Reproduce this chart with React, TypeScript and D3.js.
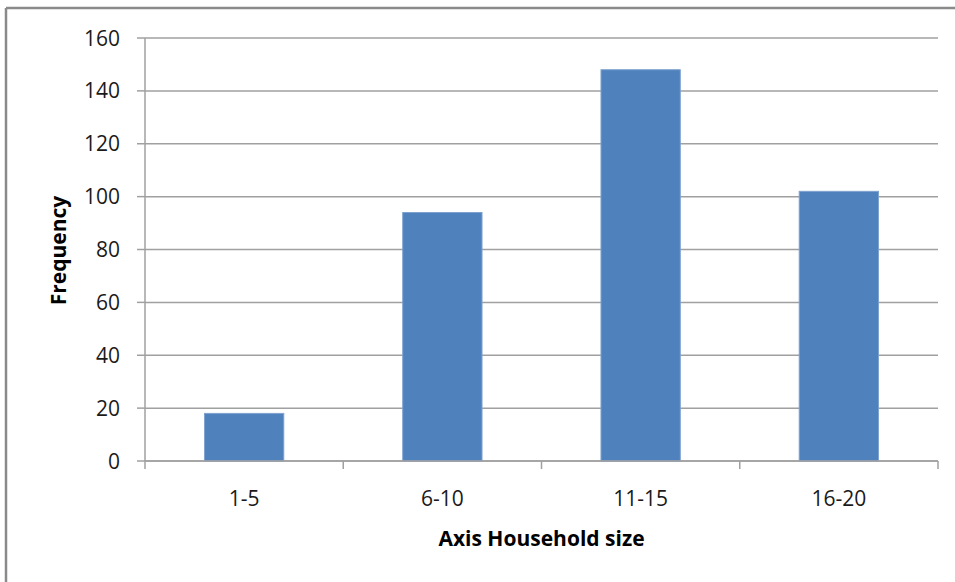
import React from "react";
import * as d3 from "d3";

const categories = ["1-5", "6-10", "11-15", "16-20"];
const frequency = [18, 94, 148, 102];
const yTicks = [0, 20, 40, 60, 80, 100, 120, 140, 160];
const xTitle = "Axis Household size";
const yTitle = "Frequency";

const W = 955;
const H = 582;
const plot = { left: 145, right: 938, top: 38, bottom: 461 };
const FONT = "'Open Sans', 'Noto Sans', sans-serif";

export default function App() {
  const x = d3
    .scaleBand<string>()
    .domain(categories)
    .range([plot.left, plot.right])
    .paddingInner(0.6)
    .paddingOuter(0.3);
  const y = d3.scaleLinear().domain([0, 160]).range([plot.bottom, plot.top]);
  const step = x.step();
  const boundaries = d3.range(categories.length + 1).map((i) => plot.left + i * step);

  return (
    <svg
      width={W}
      height={H}
      style={{ position: "absolute", left: 0, top: 0, background: "#fff" }}
    >
      <rect x={0} y={0} width={W} height={H} fill="#fff" />
      {/* frame */}
      <line x1={6} y1={8} x2={W} y2={8} stroke="#8a8a8a" strokeWidth={2.5} />
      <line x1={6} y1={8} x2={6} y2={H} stroke="#8a8a8a" strokeWidth={2.5} />

      {/* gridlines */}
      {yTicks.map((t) => (
        <line
          key={"g" + t}
          x1={plot.left}
          x2={plot.right}
          y1={y(t)}
          y2={y(t)}
          stroke="#a0a0a0"
          strokeWidth={1.5}
        />
      ))}
      {/* y tick marks and labels */}
      {yTicks.map((t) => (
        <g key={"t" + t}>
          <line x1={plot.left - 8} x2={plot.left} y1={y(t)} y2={y(t)} stroke="#a0a0a0" strokeWidth={1.5} />
          <text
            x={120}
            y={y(t)}
            dy="0.36em"
            textAnchor="end"
            fontFamily={FONT}
            fontSize={21}
            fill="#1a1a1a"
          >
            {t}
          </text>
        </g>
      ))}

      {/* bars */}
      {categories.map((c, i) => (
        <rect
          key={c}
          x={x(c)!}
          y={y(frequency[i])}
          width={x.bandwidth()}
          height={y(0) - y(frequency[i])}
          fill="#4f81bd"
          stroke="#7fa2cf"
          strokeWidth={1}
        />
      ))}

      {/* axes */}
      <line x1={plot.left} x2={plot.left} y1={plot.top} y2={plot.bottom} stroke="#a0a0a0" strokeWidth={1.5} />
      <line x1={plot.left} x2={plot.right} y1={plot.bottom} y2={plot.bottom} stroke="#a0a0a0" strokeWidth={1.5} />
      {boundaries.map((b, i) => (
        <line key={"b" + i} x1={b} x2={b} y1={plot.bottom} y2={plot.bottom + 8} stroke="#a0a0a0" strokeWidth={1.5} />
      ))}
      {categories.map((c) => (
        <text
          key={"l" + c}
          x={x(c)! + x.bandwidth() / 2}
          y={506}
          textAnchor="middle"
          fontFamily={FONT}
          fontSize={21}
          fill="#1a1a1a"
        >
          {c}
        </text>
      ))}

      {/* titles */}
      <text
        x={(plot.left + plot.right) / 2}
        y={546}
        textAnchor="middle"
        fontFamily={FONT}
        fontWeight="bold"
        fontSize={21}
        fill="#000"
      >
        {xTitle}
      </text>
      <text
        transform={`translate(66, ${(plot.top + plot.bottom) / 2 + 1}) rotate(-90)`}
        textAnchor="middle"
        fontFamily={FONT}
        fontWeight="bold"
        fontSize={21}
        fill="#000"
      >
        {yTitle}
      </text>
    </svg>
  );
}
